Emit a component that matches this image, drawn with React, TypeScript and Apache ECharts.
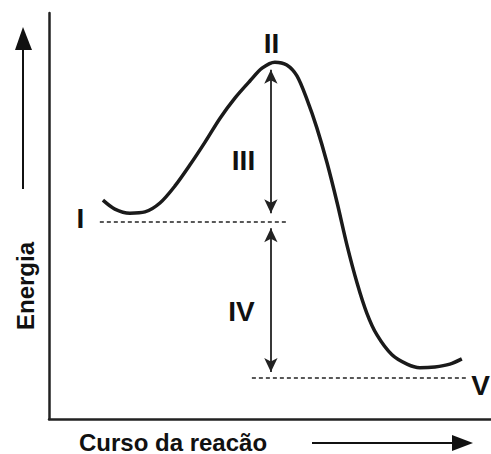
import React, { useEffect, useRef } from "react";
import * as echarts from "echarts";

// Reaction coordinate (x) and energy (y), in arbitrary 0-100 units
const reactionX = [12.2, 14.9, 18.3, 21.7, 25.1, 28.5, 31.9, 35.3, 38.7, 42.1, 45.5, 48.2, 51.1, 53.8, 56.1, 58.4, 60.6, 62.9, 65.2, 67.4, 69.7, 71.9, 74.2, 77.6, 81.0, 83.9, 87.3, 90.7, 93.4];
const energyY = [53.9, 51.7, 50.7, 51.0, 53.2, 57.4, 62.6, 68.2, 74.1, 79.1, 83.3, 86.4, 87.9, 87.2, 84.5, 78.6, 71.7, 63.1, 53.2, 42.9, 33.5, 26.1, 20.7, 15.8, 13.5, 12.6, 12.8, 13.5, 14.8];

// Energy levels
const reactantLevel = 48.5;
const productLevel = 10.1;
const reactantLineX = [11.5, 54.1];
const productLineX = [45.9, 94.3];

// Double arrows: III (activation energy) and IV (reaction enthalpy)
const arrowX = 50.2;
const arrowIII = [86.0, 50.7];
const arrowIV = [47.0, 11.6];

const labels = ["I", "II", "III", "IV", "V"];
const xAxisTitle = "Curso da reacão";
const yAxisTitle = "Energia";

const FONT = '"Liberation Sans", Arial, Helvetica, sans-serif';

export default function App() {
  const ref = useRef<HTMLDivElement>(null);
  useEffect(() => {
    if (!ref.current) return;
    document.body.style.margin = "0";
    const chart = echarts.init(ref.current, null, { renderer: "svg" });
    const curve = reactionX.map((x, i) => [x, energyY[i]]);
    const dash = { type: [4, 3] as any, color: "#222", width: 1.6 };
    const solid = { type: "solid" as any, color: "#222", width: 1.8 };
    const axisCommon = {
      type: "value" as const,
      min: 0,
      max: 100,
      axisLine: { show: true, lineStyle: { color: "#222", width: 2.5 } },
      axisTick: { show: false },
      axisLabel: { show: false },
      splitLine: { show: false },
    };
    const labelStyle = (text: string, x: number, y: number, align = "center", size = 28) => ({
      type: "text",
      x,
      y,
      style: {
        text,
        font: `bold ${size}px ${FONT}`,
        fill: "#111",
        textAlign: align,
        textVerticalAlign: "middle",
      },
    });
    chart.setOption({
      animation: false,
      backgroundColor: "#fff",
      grid: { left: 49, top: 13, width: 442, height: 406 },
      xAxis: { ...axisCommon },
      yAxis: { ...axisCommon },
      series: [
        {
          type: "line",
          data: curve,
          smooth: 0.3,
          symbol: "none",
          lineStyle: { color: "#1a1a1a", width: 3.5 },
          markLine: {
            silent: true,
            label: { show: false },
            data: [
              [
                { coord: [reactantLineX[0], reactantLevel], symbol: "none", lineStyle: dash },
                { coord: [reactantLineX[1], reactantLevel], symbol: "none" },
              ],
              [
                { coord: [productLineX[0], productLevel], symbol: "none", lineStyle: dash },
                { coord: [productLineX[1], productLevel], symbol: "none" },
              ],
              [
                { coord: [arrowX, arrowIII[0]], symbol: "arrow", symbolSize: [10, 14], lineStyle: solid },
                { coord: [arrowX, arrowIII[1]], symbol: "arrow", symbolSize: [10, 14] },
              ],
              [
                { coord: [arrowX, arrowIV[0]], symbol: "arrow", symbolSize: [10, 14], lineStyle: solid },
                { coord: [arrowX, arrowIV[1]], symbol: "arrow", symbolSize: [10, 14] },
              ],
            ],
          },
        },
      ],
      graphic: [
        labelStyle(labels[0], 80.5, 218),
        labelStyle(labels[1], 271.5, 43),
        labelStyle(labels[2], 243.5, 160),
        labelStyle(labels[3], 241.5, 311),
        labelStyle(labels[4], 490, 385, "right"),
        {
          type: "text",
          x: 25,
          y: 286,
          rotation: Math.PI / 2,
          style: {
            text: yAxisTitle,
            font: `bold 24px ${FONT}`,
            fill: "#111",
            textAlign: "center",
            textVerticalAlign: "middle",
          },
        },
        {
          type: "text",
          x: 173,
          y: 442,
          style: {
            text: xAxisTitle,
            font: `bold 24px ${FONT}`,
            fill: "#111",
            textAlign: "center",
            textVerticalAlign: "middle",
          },
        },
        // vertical energy arrow
        { type: "line", shape: { x1: 23, y1: 189, x2: 23, y2: 45 }, style: { stroke: "#111", lineWidth: 2 } },
        { type: "polygon", shape: { points: [[23, 27], [15, 50], [32, 50]] }, style: { fill: "#111" } },
        // horizontal reaction arrow
        { type: "line", shape: { x1: 312, y1: 443, x2: 458, y2: 443 }, style: { stroke: "#111", lineWidth: 2 } },
        { type: "polygon", shape: { points: [[473, 443], [452, 435], [452, 451]] }, style: { fill: "#111" } },
      ],
    });
    return () => chart.dispose();
  }, []);
  return <div ref={ref} style={{ width: 491, height: 454 }} />;
}
